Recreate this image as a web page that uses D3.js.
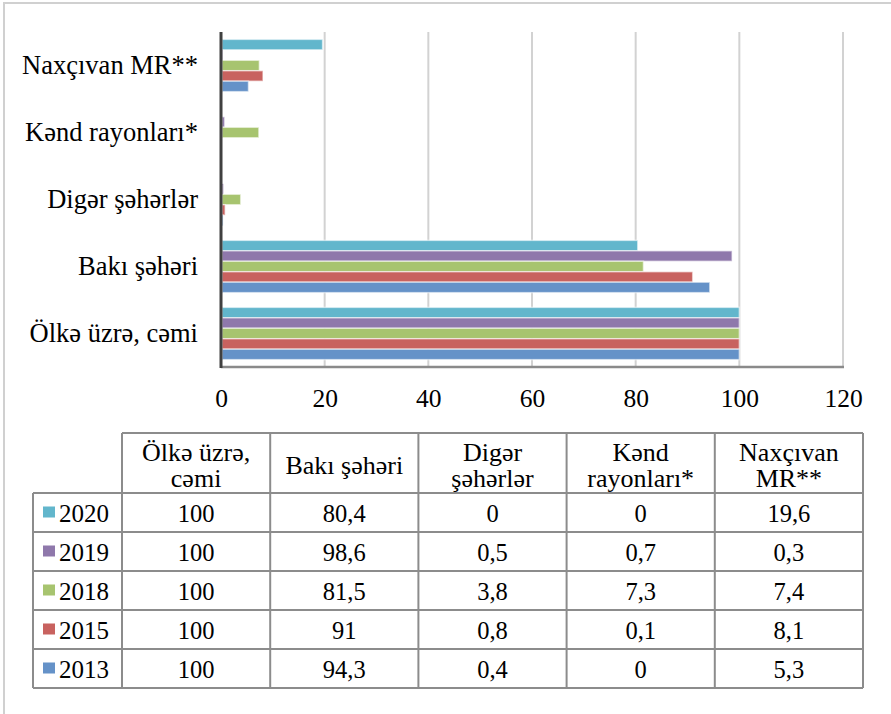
<!DOCTYPE html>
<html>
<head>
<meta charset="utf-8">
<script src="https://cdn.jsdelivr.net/npm/d3@7"></script>
<style>
  body { margin: 0; background: #fff; }
</style>
</head>
<body>
<div class="chart"></div>
<script>
// categories (bottom to top in the chart, left to right in the table)
const categories = ["Ölkə üzrə, cəmi", "Bakı şəhəri", "Digər şəhərlər", "Kənd rayonları*", "Naxçıvan MR**"];
const headerLines = [["Ölkə üzrə,", "cəmi"], ["Bakı şəhəri"], ["Digər", "şəhərlər"], ["Kənd", "rayonları*"], ["Naxçıvan", "MR**"]];
const years = ["2020", "2019", "2018", "2015", "2013"];
const colors = ["#62b6cc", "#8f78ab", "#a7c46f", "#c8625f", "#6592c8"];

const v2020 = [100, 80.4, 0, 0, 19.6];
const v2019 = [100, 98.6, 0.5, 0.7, 0.3];
const v2018 = [100, 81.5, 3.8, 7.3, 7.4];
const v2015 = [100, 91, 0.8, 0.1, 8.1];
const v2013 = [100, 94.3, 0.4, 0, 5.3];
const series = [v2020, v2019, v2018, v2015, v2013];

const xTicks = [0, 20, 40, 60, 80, 100, 120];

const FONT = "'Liberation Serif', 'Times New Roman', serif";

function Charting(){
    const W = 891, H = 714;

    const svg = d3.select(".chart").append("svg")
    .attr("width", W)
    .attr("height", H)
    .style("font-family", FONT);

    // outer chart border (only top and left are visible)
    svg.append("rect")
    .attr("x", 4).attr("y", 3)
    .attr("width", W + 20).attr("height", H + 20)
    .attr("fill", "none")
    .attr("stroke", "#d0d0d0")
    .attr("stroke-width", 2);

    const plot = {left: 221, right: 843, top: 32, bottom: 367};

    const xScale = d3.scaleLinear()
    .domain([0, 120])
    .range([plot.left, plot.right]);

    const yScale = d3.scaleBand()
    .domain(categories.slice().reverse())
    .range([plot.top, plot.bottom])
    .paddingInner(0.22)
    .paddingOuter(0.11);

    const ySub = d3.scaleBand()
    .domain(years)
    .range([0, yScale.bandwidth()]);

    const colorScale = d3.scaleOrdinal()
    .domain(years)
    .range(colors);

    // gridlines
    svg.append("g")
    .selectAll("line")
    .data(xTicks.slice(1))
    .enter()
    .append("line")
    .attr("x1", d => xScale(d)).attr("x2", d => xScale(d))
    .attr("y1", plot.top).attr("y2", plot.bottom)
    .attr("stroke", "#d2d2d2")
    .attr("stroke-width", 2);

    // bars
    const bars = [];
    years.forEach((y, i) => {
        categories.forEach((c, j) => bars.push({year: y, cat: c, value: series[i][j]}));
    });

    svg.append("g")
    .selectAll("rect")
    .data(bars.filter(d => d.value > 0))
    .enter()
    .append("rect")
    .attr("x", xScale(0) + 1)
    .attr("y", d => yScale(d.cat) + ySub(d.year))
    .attr("width", d => xScale(d.value) - xScale(0) - 1)
    .attr("height", ySub.bandwidth())
    .attr("fill", d => colorScale(d.year))
    .attr("stroke", "rgba(255,255,255,0.55)")
    .attr("stroke-width", 1.5);

    // x axis line
    svg.append("line")
    .attr("x1", plot.left).attr("x2", plot.right + 1)
    .attr("y1", plot.bottom).attr("y2", plot.bottom)
    .attr("stroke", "#8a8a8a")
    .attr("stroke-width", 2.5);

    // y axis line
    svg.append("line")
    .attr("x1", plot.left).attr("x2", plot.left)
    .attr("y1", plot.top).attr("y2", plot.bottom + 1)
    .attr("stroke", "#404040")
    .attr("stroke-width", 3);

    const xAxis = d3.axisBottom(xScale)
    .tickValues(xTicks)
    .tickSize(0)
    .tickPadding(22);

    svg.append("g")
    .attr("class", "axis x-axis")
    .attr("transform", `translate(0, ${plot.bottom})`)
    .call(xAxis)
    .call(g => g.select(".domain").remove())
    .selectAll("text")
    .style("font-family", FONT)
    .style("font-size", "25.5px")
    .attr("fill", "#000");

    const yAxis = d3.axisLeft(yScale)
    .tickSize(0)
    .tickPadding(23);

    svg.append("g")
    .attr("class", "axis y-axis")
    .attr("transform", `translate(${plot.left}, 0)`)
    .call(yAxis)
    .call(g => g.select(".domain").remove())
    .selectAll("text")
    .style("font-family", FONT)
    .style("font-size", "26.5px")
    .attr("fill", "#000");

    // data table
    const tbl = {left: 33, first: 122, right: 863, top: 433, head: 493, bottom: 688};

    const colScale = d3.scaleBand()
    .domain(categories)
    .range([tbl.first, tbl.right]);

    const rowScale = d3.scaleBand()
    .domain(years)
    .range([tbl.head, tbl.bottom]);

    const grid = svg.append("g")
    .attr("stroke", "#8c8c8c")
    .attr("stroke-width", 2);

    grid.append("line")
    .attr("x1", tbl.first).attr("x2", tbl.right)
    .attr("y1", tbl.top).attr("y2", tbl.top);

    grid.selectAll(".hrow")
    .data(years.concat(["end"]))
    .enter()
    .append("line")
    .attr("x1", tbl.left).attr("x2", tbl.right)
    .attr("y1", (d, i) => tbl.head + i * rowScale.step())
    .attr("y2", (d, i) => tbl.head + i * rowScale.step());

    grid.append("line")
    .attr("x1", tbl.left).attr("x2", tbl.left)
    .attr("y1", tbl.head).attr("y2", tbl.bottom);

    grid.selectAll(".vcol")
    .data(categories.concat(["end"]))
    .enter()
    .append("line")
    .attr("x1", (d, i) => tbl.first + i * colScale.step())
    .attr("x2", (d, i) => tbl.first + i * colScale.step())
    .attr("y1", tbl.top).attr("y2", tbl.bottom);

    // header
    categories.forEach((c, j) => {
        const lines = headerLines[j];
        const cx = colScale(c) + colScale.bandwidth() / 2;
        const cy = (tbl.top + tbl.head) / 2;
        svg.append("text")
        .attr("text-anchor", "middle")
        .style("font-family", FONT)
        .style("font-size", "26px")
        .selectAll("tspan")
        .data(lines)
        .enter()
        .append("tspan")
        .attr("x", cx)
        .attr("y", (d, k) => cy + 11 + (k - (lines.length - 1) / 2) * 26)
        .text(d => d);
    });

    // legend keys + year labels
    const rows = svg.selectAll(".row")
    .data(years)
    .enter()
    .append("g");

    rows.append("rect")
    .attr("x", 43)
    .attr("y", d => rowScale(d) + rowScale.bandwidth() / 2 - 6)
    .attr("width", 12)
    .attr("height", 11)
    .attr("fill", colorScale);

    rows.append("text")
    .attr("x", 59)
    .attr("y", d => rowScale(d) + rowScale.bandwidth() / 2 + 9)
    .style("font-family", FONT)
    .style("font-size", "25px")
    .text(d => d);

    const fmt = v => String(v).replace(".", ",");

    years.forEach((y, i) => {
        svg.append("g")
        .selectAll("text")
        .data(series[i])
        .enter()
        .append("text")
        .attr("x", (d, j) => colScale(categories[j]) + colScale.bandwidth() / 2)
        .attr("y", rowScale(y) + rowScale.bandwidth() / 2 + 9)
        .attr("text-anchor", "middle")
        .style("font-family", FONT)
        .style("font-size", "24.5px")
        .text(d => fmt(d));
    });
}

Charting()
</script>
</body>
</html>
